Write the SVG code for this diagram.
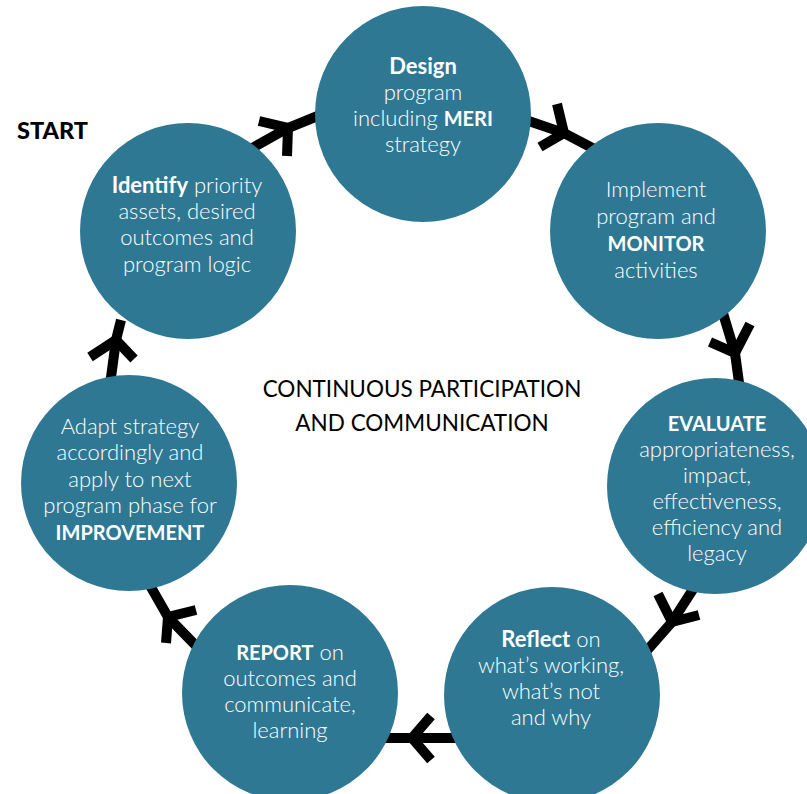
<svg xmlns="http://www.w3.org/2000/svg" width="807" height="794" viewBox="0 0 807 794">
<style>
.node{fill:#2e7894}
.t{font-family:Lato,"Open Sans","Liberation Sans",sans-serif;font-size:22px;font-weight:300;fill:#ffffff;text-anchor:middle}
.b{font-weight:700}
.k{font-weight:700;font-size:20px}
.c{fill:none;stroke:#000;stroke-width:10;stroke-linecap:butt;stroke-linejoin:miter}
.center{font-family:Lato,"Open Sans","Liberation Sans",sans-serif;font-size:22.5px;font-weight:400;fill:#000;text-anchor:middle}
</style>
<rect width="807" height="794" fill="#fff"/>
<g id="connectors">
<path class="c" d="M245,152 L288,128 L325,113"/>
<path class="c" d="M259,121 L288,128 L287,156"/>
<path class="c" d="M520,118 L564,133 L600,152"/>
<path class="c" d="M557,104 L564,133 L540,147"/>
<path class="c" d="M722,310 L735,353 L740,390"/>
<path class="c" d="M710,342 L735,353 L750,324"/>
<path class="c" d="M699,580 L672,622 L643,655"/>
<path class="c" d="M658,594 L672,622 L699,615"/>
<path class="c" d="M458,738 L383,738"/>
<path class="c" d="M431,716 L412,738 L431,760"/>
<path class="c" d="M202,652 L168,617 L148,582"/>
<path class="c" d="M166,643 L168,617 L196,610"/>
<path class="c" d="M110,385 L116,340 L121,320"/>
<path class="c" d="M90,357 L116,340 L134,359"/>
</g>
<g id="start">
<text x="17" y="139" font-family="Lato,'Open Sans','Liberation Sans',sans-serif" font-size="23.5px" font-weight="900" fill="#000">START</text>
</g>
<g id="center-label">
<text class="center" x="422" y="397">CONTINUOUS PARTICIPATION</text>
<text class="center" x="422" y="431">AND COMMUNICATION</text>
</g>
<g id="design">
<circle class="node" cx="423" cy="114" r="108"/>
<text class="t" x="423" y="74"><tspan class="b">Design</tspan></text>
<text class="t" x="423" y="100">program</text>
<text class="t" x="423" y="126">including <tspan class="k">MERI</tspan></text>
<text class="t" x="423" y="152">strategy</text>
</g>
<g id="implement">
<circle class="node" cx="658" cy="231" r="108"/>
<text class="t" x="656" y="197">Implement</text>
<text class="t" x="656" y="224">program and</text>
<text class="t" x="656" y="251"><tspan class="k">MONITOR</tspan></text>
<text class="t" x="656" y="278">activities</text>
</g>
<g id="evaluate">
<circle class="node" cx="715" cy="486" r="108"/>
<text class="t" x="717" y="431"><tspan class="k">EVALUATE</tspan></text>
<text class="t" x="717" y="457">appropriateness,</text>
<text class="t" x="717" y="483">impact,</text>
<text class="t" x="717" y="509">effectiveness,</text>
<text class="t" x="717" y="535">efficiency and</text>
<text class="t" x="717" y="561">legacy</text>
</g>
<g id="reflect">
<circle class="node" cx="552" cy="695" r="108"/>
<text class="t" x="551" y="647"><tspan class="b">Reflect</tspan> on</text>
<text class="t" x="551" y="673">what’s working,</text>
<text class="t" x="551" y="699">what’s not</text>
<text class="t" x="551" y="725">and why</text>
</g>
<g id="report">
<circle class="node" cx="290" cy="693" r="108"/>
<text class="t" x="290" y="660"><tspan class="k">REPORT</tspan> on</text>
<text class="t" x="290" y="686">outcomes and</text>
<text class="t" x="290" y="712">communicate,</text>
<text class="t" x="290" y="738">learning</text>
</g>
<g id="adapt">
<circle class="node" cx="129" cy="483" r="108"/>
<text class="t" x="130" y="434">Adapt strategy</text>
<text class="t" x="130" y="460">accordingly and</text>
<text class="t" x="130" y="487">apply to next</text>
<text class="t" x="130" y="513">program phase for</text>
<text class="t" x="130" y="540"><tspan class="k">IMPROVEMENT</tspan></text>
</g>
<g id="identify">
<circle class="node" cx="188" cy="231" r="108"/>
<text class="t" x="187" y="193"><tspan class="b">Identify</tspan> priority</text>
<text class="t" x="187" y="219">assets, desired</text>
<text class="t" x="187" y="245">outcomes and</text>
<text class="t" x="187" y="272">program logic</text>
</g>
</svg>
